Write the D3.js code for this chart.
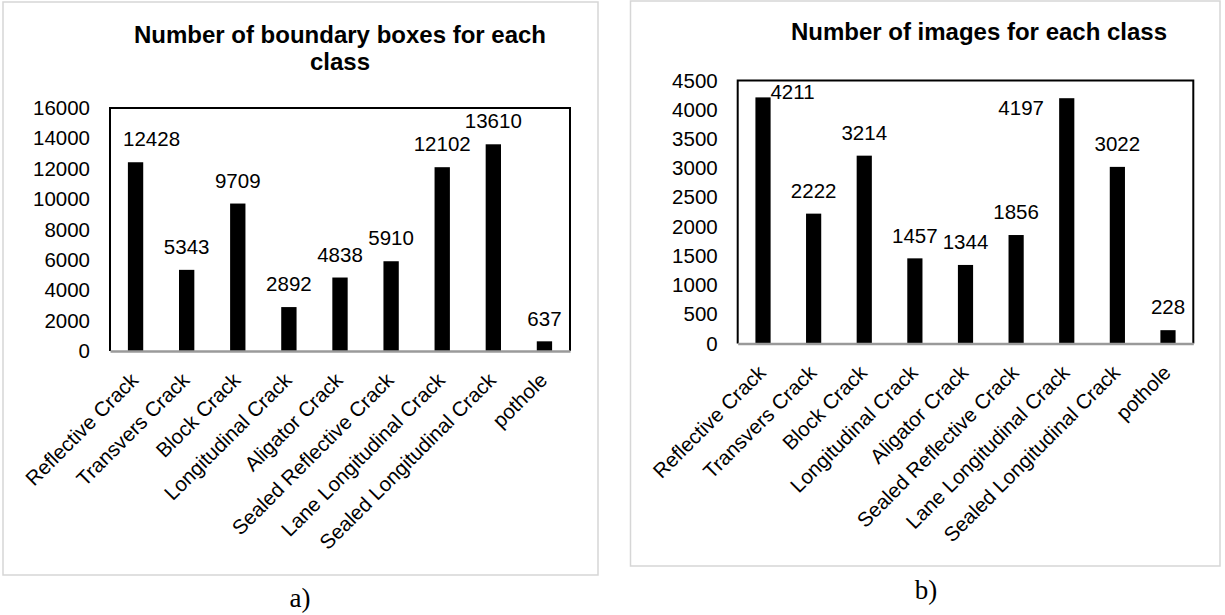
<!DOCTYPE html>
<html>
<head>
<meta charset="utf-8">
<script src="https://cdn.jsdelivr.net/npm/d3@7"></script>
<style>
  html, body { margin: 0; padding: 0; background: #fff; }
  svg { display: block; }
</style>
</head>
<body>
<svg id="chart" width="1225" height="615"></svg>
<script>
// ---- data ----
const categories = ["Reflective Crack", "Transvers Crack", "Block Crack", "Longitudinal Crack",
  "Aligator Crack", "Sealed Reflective Crack", "Lane Longitudinal Crack",
  "Sealed Longitudinal Crack", "pothole"];
const boxCounts = [12428, 5343, 9709, 2892, 4838, 5910, 12102, 13610, 637];
const imageCounts = [4211, 2222, 3214, 1457, 1344, 1856, 4197, 3022, 228];
const boxTicks = [0, 2000, 4000, 6000, 8000, 10000, 12000, 14000, 16000];
const imageTicks = [0, 500, 1000, 1500, 2000, 2500, 3000, 3500, 4000, 4500];
const titleA = ["Number of boundary boxes for each", "class"];
const titleB = ["Number of images for each class"];

const FONT = "'Liberation Sans', Arial, Helvetica, sans-serif";
const SERIF = "'Liberation Serif', 'Times New Roman', serif";
const FS = 20.5;
const svg = d3.select("#chart");

function drawChart(cfg) {
  const g = svg.append("g");
  // outer frame
  g.append("rect")
    .attr("x", cfg.frame[0]).attr("y", cfg.frame[1])
    .attr("width", cfg.frame[2] - cfg.frame[0]).attr("height", cfg.frame[3] - cfg.frame[1])
    .attr("fill", "none").attr("stroke", "#d6d6d6").attr("stroke-width", 1.5);

  const x = d3.scaleBand().domain(cfg.categories)
    .range([cfg.left, cfg.right]).paddingInner(0.7).paddingOuter(0.35);
  const y = d3.scaleLinear().domain([0, cfg.max]).range([cfg.bottom, cfg.top]);

  // title
  const t = g.append("text")
    .attr("x", cfg.titleX).attr("font-family", FONT).attr("font-weight", "bold")
    .attr("font-size", 24).attr("text-anchor", "middle").attr("fill", "#000");
  cfg.title.forEach((line, i) => {
    t.append("tspan").attr("x", cfg.titleX).attr("y", cfg.titleY + i * 27)
      .attr("dy", "0.35em").text(line);
  });

  // y axis labels
  const yAxis = d3.axisLeft(y).tickValues(cfg.ticks).tickSize(0).tickPadding(20)
    .tickFormat(d3.format("d"));
  const ya = g.append("g").attr("transform", `translate(${cfg.left},0)`).call(yAxis);
  ya.select(".domain").remove();
  ya.selectAll("text").attr("font-family", FONT).attr("font-size", FS).attr("fill", "#000");

  // bars
  g.selectAll("rect.bar").data(cfg.values).join("rect")
    .attr("class", "bar")
    .attr("x", (d, i) => x(cfg.categories[i]))
    .attr("width", x.bandwidth())
    .attr("y", d => y(d))
    .attr("height", d => cfg.bottom - y(d))
    .attr("fill", "#000");

  // plot box
  g.append("path")
    .attr("d", `M${cfg.left},${cfg.bottom}V${cfg.top}H${cfg.right}V${cfg.bottom}`)
    .attr("fill", "none").attr("stroke", "#000").attr("stroke-width", 2);
  // x axis (baseline)
  const xAxis = d3.axisBottom(x).tickSize(0).tickFormat("");
  const xa = g.append("g").attr("transform", `translate(0,${cfg.bottom})`).call(xAxis);
  xa.select(".domain").attr("stroke", "#9a9a9a").attr("stroke-width", 2.5);

  // x labels rotated
  g.selectAll("text.xl").data(cfg.categories).join("text")
    .attr("class", "xl")
    .attr("transform", d => `translate(${x(d) + x.bandwidth() / 2 + 4},${cfg.bottom + 30.5}) rotate(-45)`)
    .attr("text-anchor", "end")
    .attr("font-family", FONT).attr("font-size", FS).attr("fill", "#000")
    .text(d => d);

  // data labels
  g.selectAll("text.vl").data(cfg.values).join("text")
    .attr("class", "vl")
    .attr("x", (d, i) => x(cfg.categories[i]) + x.bandwidth() / 2 + ((cfg.shift[cfg.categories[i]] || [0, 0])[0]))
    .attr("y", (d, i) => y(d) - 23 + ((cfg.shift[cfg.categories[i]] || [0, 0])[1]))
    .attr("dy", "0.35em")
    .attr("text-anchor", "middle")
    .attr("font-family", FONT).attr("font-size", FS).attr("fill", "#000")
    .text(d => d);

  // caption
  g.append("text").attr("x", cfg.capX).attr("y", cfg.capY).attr("dy", "0.35em")
    .attr("text-anchor", "middle").attr("font-family", SERIF).attr("font-size", 27)
    .attr("fill", "#000").text(cfg.caption);
}

drawChart({
  categories, values: boxCounts, ticks: boxTicks, max: 16000, title: titleA,
  frame: [3, 2, 598, 575], left: 110, right: 570, top: 108, bottom: 351,
  titleX: 340, titleY: 35, capX: 300, capY: 598, caption: "a)",
  shift: { "Reflective Crack": [16, 0] }
});
drawChart({
  categories, values: imageCounts, ticks: imageTicks, max: 4500, title: titleB,
  frame: [630.5, 1, 1220, 566], left: 737.7, right: 1193.3, top: 80.5, bottom: 343.5,
  titleX: 979, titleY: 32, capX: 926, capY: 590, caption: "b)",
  shift: { "Reflective Crack": [29.5, 17.4], "Lane Longitudinal Crack": [-45.6, 32.3] }
});
</script>
</body>
</html>
